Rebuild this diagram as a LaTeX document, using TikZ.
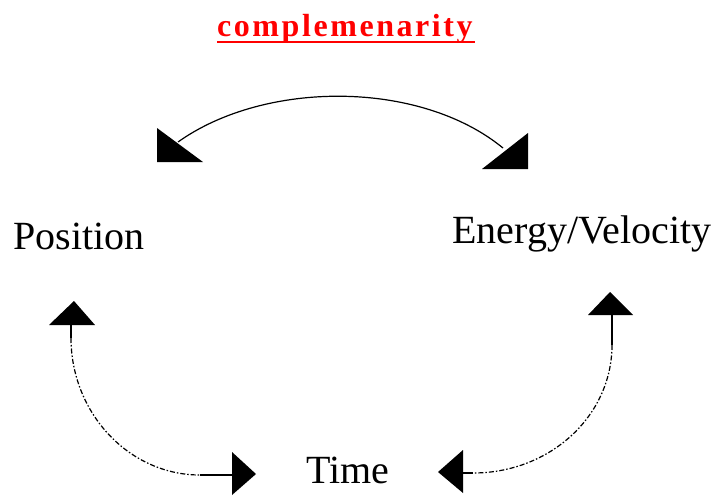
\documentclass[tikz,border=0pt]{standalone}
\usepackage{fontspec}
\setmainfont{Liberation Serif}
\newfontfamily\titlefont[LetterSpace=8]{Liberation Serif}
\begin{document}
\begin{tikzpicture}[x=1pt,y=-1pt,
  lbl/.style={inner sep=0pt, anchor=base west, font=\fontsize{40}{42}\selectfont},
  ttl/.style={inner sep=0pt, anchor=base west, text=red, font=\titlefont\bfseries\fontsize{32}{34}\selectfont},
  solidln/.style={line width=1.2pt},
  dd/.style={line width=1.2pt, dash pattern=on 5pt off 2pt on 1.5pt off 2pt},
  tipfill/.style={fill=black}]
\useasboundingbox (0,0) rectangle (718,496);
% texts
\node[ttl] (title) at (217,36) {complemenarity};
\draw[red, line width=2pt] ([yshift=-6pt]title.base west) -- ++(258,0);
\node[lbl] (pos) at (13,249) {Position};
\node[lbl] (ev) at (452,243) {Energy/Velocity};
\node[lbl] (time) at (306,483) {Time};
% top arc
\coordinate (a1) at (178,142);
\coordinate (a2) at (503,148);
\draw[solidln] (a1) .. controls (265,80) and (420,80) .. (a2);
\fill[tipfill] (157,128) -- (157,162) -- (203,162) -- cycle;
\fill[tipfill] (482,169) -- (528,133) -- (528,169) -- cycle;
% lower left
\coordinate (l0) at (71,325);
\coordinate (l1) at (71,338);
\coordinate (l2) at (200,475);
\coordinate (l3) at (232,475);
\fill[tipfill] (74,301) -- (49,325) -- (95,325) -- cycle;
\draw[solidln] (l0) -- (l1);
\draw[dd] (l1) .. controls (71,413) and (129,475) .. (l2);
\draw[solidln] (l2) -- (l3);
\fill[tipfill] (232,452) -- (256,474) -- (232,495) -- cycle;
% lower right
\coordinate (r0) at (612,315);
\coordinate (r1) at (612,345);
\coordinate (r2) at (473,473);
\coordinate (r3) at (463,473);
\fill[tipfill] (610,292) -- (588,315) -- (633,315) -- cycle;
\draw[solidln] (r0) -- (r1);
\draw[dd] (r1) .. controls (612,416) and (550,473) .. (r2);
\draw[solidln] (r2) -- (r3);
\fill[tipfill] (463,450) -- (438,472) -- (463,493) -- cycle;
\end{tikzpicture}
\end{document}
